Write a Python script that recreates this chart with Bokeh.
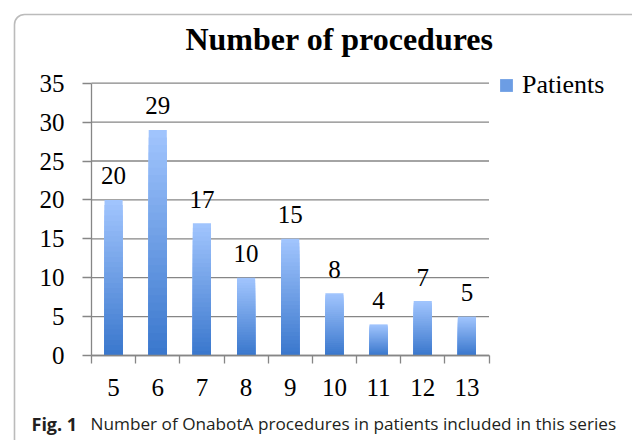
from bokeh.plotting import figure
from bokeh.models import FixedTicker, Label, BoxAnnotation, Legend, LegendItem, ColumnDataSource
from bokeh.core.properties import value
from bokeh.embed import file_html
from bokeh.resources import INLINE

# ---- data ----
categories = [5, 6, 7, 8, 9, 10, 11, 12, 13]
patients = [20, 29, 17, 10, 15, 8, 4, 7, 5]
y_ticks = [0, 5, 10, 15, 20, 25, 30, 35]
title_text = "Number of procedures"
series_name = "Patients"
caption_bold = "Fig. 1"
caption_text = "Number of OnabotA procedures in patients included in this series"

W, H = 632, 440
X0, X1 = 4.5, 13.5          # category band edges
Y0, Y1 = 0, 35
PX_X0, PX_X1 = 91, 488.5    # pixel anchors of plot area
PX_Y0, PX_Y1 = 355, 82.7
sx = (PX_X1 - PX_X0) / (X1 - X0)
sy = (PX_Y0 - PX_Y1) / (Y1 - Y0)
BASE_FIX = 7                # label baseline correction (px)

def px_x(cx):
    return X0 + (cx - PX_X0) / sx

def px_y(cy):
    return Y0 + (PX_Y0 - cy) / sy

GRAY = "#868686"
SERIF = "Liberation Serif"

p = figure(width=W, height=H, x_range=(px_x(0), px_x(W)), y_range=(px_y(H), px_y(0)),
           output_backend="svg", toolbar_location=None, min_border=0)
p.outline_line_color = None
p.background_fill_color = "white"
p.border_fill_color = "white"
p.xgrid.visible = False
p.ygrid.visible = False

# grid lines (within the category span)
p.segment(x0=[X0] * len(y_ticks), x1=[X1] * len(y_ticks), y0=y_ticks, y1=y_ticks,
          line_color=GRAY, line_width=1.3)

# gradient bars as layered vbars
N = 30
light = (0xA0, 0xC4, 0xFD)
dark = (0x3B, 0x78, 0xCD)
xs, tops, cols = [], [], []
for k in range(N):
    frac = (N - k) / N
    t = k / (N - 1)
    c = tuple(int(round(light[i] + (dark[i] - light[i]) * t)) for i in range(3))
    col = "#%02x%02x%02x" % c
    for cat, v in zip(categories, patients):
        xs.append(cat)
        tops.append(v * frac)
        cols.append(col)
src = ColumnDataSource(dict(x=xs, top=tops, color=cols))
bars = p.vbar(x="x", top="top", bottom=0, width=0.41, fill_color="color", line_color=None, source=src)

# data labels
p.text(x=categories, y=patients, text=[str(v) for v in patients],
       text_align="center", text_baseline="alphabetic", y_offset=-24,
       text_font=value(SERIF), text_font_size="25px", text_color="black")

# axes at fixed positions
p.yaxis.fixed_location = X0
p.yaxis.bounds = (Y0, Y1)
p.yaxis.ticker = FixedTicker(ticks=y_ticks, minor_ticks=[])
p.yaxis.major_tick_out = 9
p.yaxis.major_tick_in = 0
p.yaxis.minor_tick_out = 0
p.yaxis.minor_tick_in = 0
p.yaxis.major_label_standoff = 18

p.xaxis.fixed_location = Y0
p.xaxis.bounds = (X0, X1)
p.xaxis.ticker = FixedTicker(ticks=categories, minor_ticks=[c - 0.5 for c in categories] + [categories[-1] + 0.5])
p.xaxis.major_tick_out = 0
p.xaxis.major_tick_in = 0
p.xaxis.minor_tick_out = 8
p.xaxis.minor_tick_in = 0
p.xaxis.major_label_standoff = 15

for ax in (p.xaxis, p.yaxis):
    ax.axis_line_color = GRAY
    ax.axis_line_width = 1.3
    ax.major_tick_line_color = GRAY
    ax.major_tick_line_width = 1.3
    ax.minor_tick_line_color = GRAY
    ax.minor_tick_line_width = 1.3
    ax.major_label_text_font = SERIF
    ax.major_label_text_font_size = "25px"
    ax.major_label_text_color = "black"

# legend (uses a mid-gradient colour of the bar renderer)
legend = Legend(items=[LegendItem(label=series_name, renderers=[bars], index=(N // 2) * len(categories))],
                location=(498, 340), border_line_color=None, background_fill_alpha=0,
                padding=0, margin=0, glyph_width=16, glyph_height=16, label_standoff=8,
                label_text_font=SERIF, label_text_font_size="26px", label_text_color="black")
p.add_layout(legend)

# title
p.add_layout(Label(x=px_x(339), y=px_y(45 - BASE_FIX), text=title_text, text_align="center",
                   text_baseline="alphabetic", text_font=SERIF, text_font_style="bold",
                   text_font_size="32px", text_color="black"))

# caption
p.add_layout(Label(x=px_x(31), y=px_y(430 - BASE_FIX), text=caption_bold, text_align="left",
                   text_baseline="alphabetic", text_font="Open Sans", text_font_style="bold",
                   text_font_size="18px", text_color="#231f20"))
p.add_layout(Label(x=px_x(90), y=px_y(430 - BASE_FIX), text=caption_text, text_align="left",
                   text_baseline="alphabetic", text_font="Open Sans",
                   text_font_size="17.2px", text_color="#231f20"))

# outer rounded frame
p.add_layout(BoxAnnotation(left=px_x(14), right=px_x(660), top=px_y(14), bottom=px_y(470),
                           fill_color=None, line_color="#1e1e1e", line_width=1.6,
                           border_radius=10))

open("out.html", "w").write(file_html(p, INLINE))
